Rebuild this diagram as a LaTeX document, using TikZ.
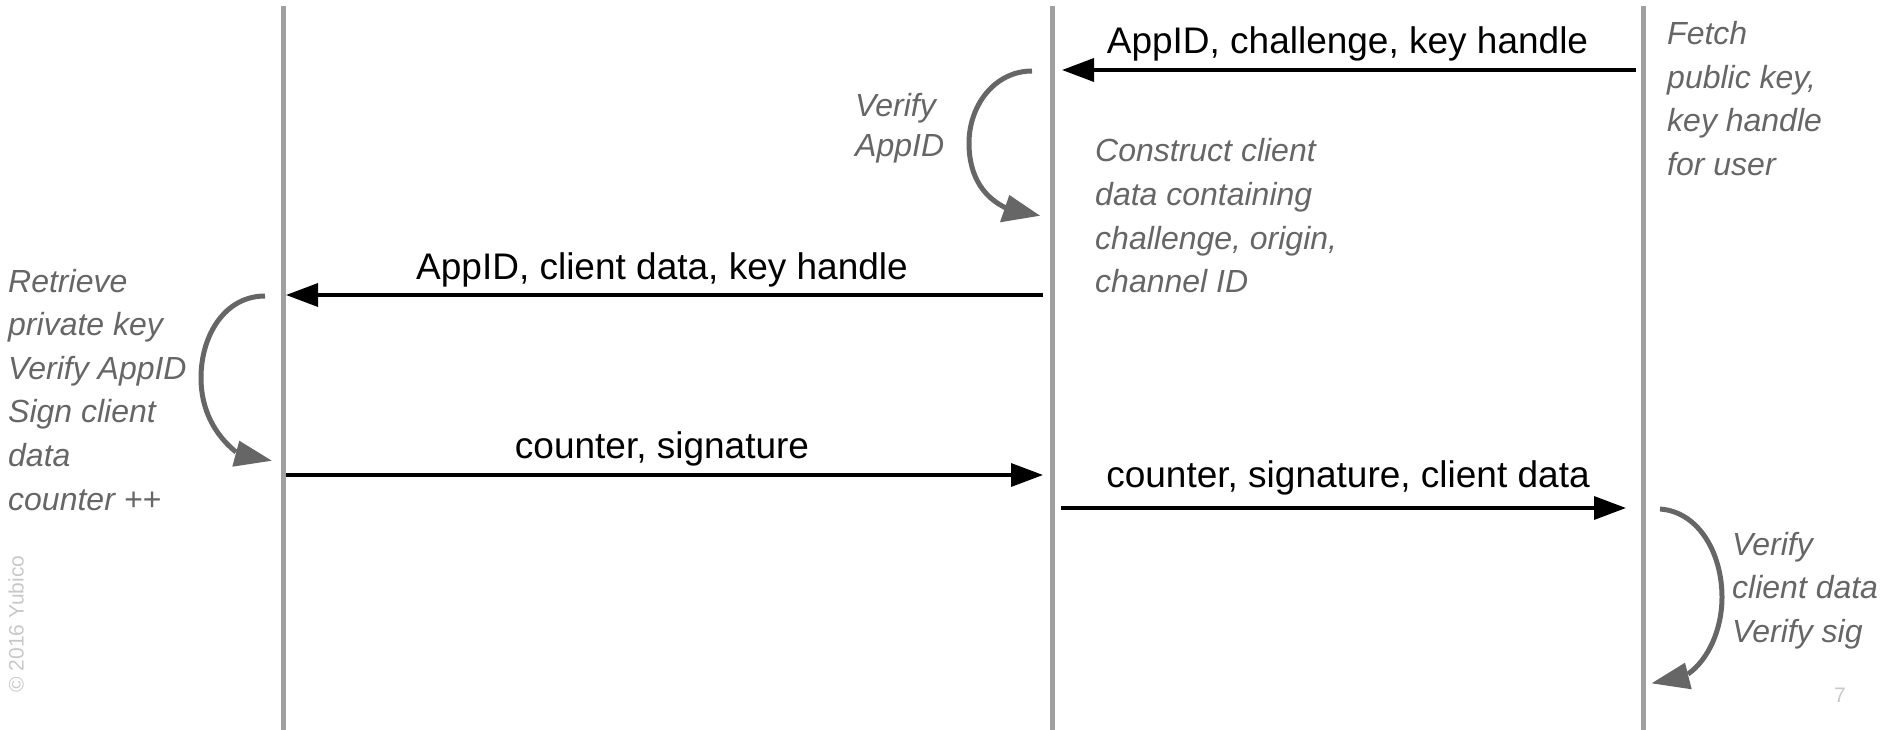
\documentclass[tikz,border=0pt]{standalone}
\usepackage{fontspec}
\setmainfont{Liberation Sans}
\usetikzlibrary{arrows.meta}
\definecolor{lifegray}{HTML}{A0A0A0}
\definecolor{notegray}{HTML}{666666}
\definecolor{faintgray}{HTML}{C8C8C8}

\begin{document}
\begin{tikzpicture}[x=1pt,y=-1pt,
  lifeline/.style={draw=lifegray,line width=5pt},
  msg/.style={draw=black,line width=3.5pt,-{Triangle[length=32pt,width=23pt]}},
  msglabel/.style={anchor=base,inner sep=0pt,font=\fontsize{37}{44}\selectfont},
  notetext/.style={anchor=base west,inner sep=0pt,text=notegray,
    font=\fontsize{32}{43.6}\selectfont\itshape},
  loopline/.style={draw=notegray,line width=5pt},
  loophead/.style={fill=notegray},
  faint/.style={inner sep=0pt,text=faintgray,font=\fontsize{21}{24}\selectfont},
]
\useasboundingbox (0,0) rectangle (1883,730);

% lifelines: token, client, relying party
\coordinate (tokTop) at (283.5,6);   \coordinate (tokBot) at (283.5,730);
\coordinate (cliTop) at (1052,6);    \coordinate (cliBot) at (1052,730);
\coordinate (rpTop)  at (1643,6);    \coordinate (rpBot)  at (1643,730);
\draw[lifeline] (tokTop) -- (tokBot);
\draw[lifeline] (cliTop) -- (cliBot);
\draw[lifeline] (rpTop)  -- (rpBot);

% message end points
\coordinate (m1s) at (1636,70);  \coordinate (m1e) at (1062,70);
\coordinate (m2s) at (1043,295); \coordinate (m2e) at (286,295);
\coordinate (m3s) at (286,475);  \coordinate (m3e) at (1043,475);
\coordinate (m4s) at (1061,508); \coordinate (m4e) at (1626,508);

\draw[msg] (m1s) -- (m1e);
\draw[msg] (m2s) -- (m2e);
\draw[msg] (m3s) -- (m3e);
\draw[msg] (m4s) -- (m4e);

\node[msglabel] (l1) at (1347.5,53.5) {AppID, challenge, key handle};
\node[msglabel] (l2) at (662,279.5)   {AppID, client data, key handle};
\node[msglabel] (l3) at (662,458.5)   {counter, signature};
\node[msglabel] (l4) at (1348,487.5)  {counter, signature, client data};

% processing notes
\node[notetext] (nFetch) at (1667,44.5)
  {\vtop{\hbox{Fetch}\hbox{public key,}\hbox{key handle}\hbox{for user}}};
\node[notetext] (nVerApp) at (855,117)
  {\vtop{\baselineskip=39.5pt\hbox{Verify}\hbox{AppID}}};
\node[notetext] (nConstruct) at (1095,162)
  {\vtop{\hbox{Construct client}\hbox{data containing}\hbox{challenge, origin,}\hbox{channel ID}}};
\node[notetext] (nToken) at (8,292)
  {\vtop{\hbox{Retrieve}\hbox{private key}\hbox{Verify AppID}\hbox{Sign client}\hbox{data}\hbox{counter ++}}};
\node[notetext] (nVerSig) at (1732,555)
  {\vtop{\hbox{Verify}\hbox{client data}\hbox{Verify sig}}};

% self loops
\draw[loopline] (1032,71) .. controls (995,71) and (969,105) .. (969,143)
  .. controls (969,178) and (985,198) .. (1006,208);
\fill[loophead] (1040,215.7) -- (1000,222.3) -- (1009.3,195) -- cycle;

\draw[loopline] (265,296) .. controls (225,296) and (201,335) .. (201,378)
  .. controls (201,410) and (215,435) .. (236,452);
\fill[loophead] (271.7,460.7) -- (232.3,466.7) -- (239.3,440.7) -- cycle;

\draw[loopline] (1660,509) .. controls (1700,512) and (1722,555) .. (1722,597)
  .. controls (1722,630) and (1708,660) .. (1688,674);
\fill[loophead] (1651.7,683.3) -- (1691.7,689.3) -- (1685,662.7) -- cycle;

% footer
\node[faint,rotate=90] (copy) at (16,624) {© 2016 Yubico};
\node[faint] (page) at (1840,695) {7};
\end{tikzpicture}
\end{document}
